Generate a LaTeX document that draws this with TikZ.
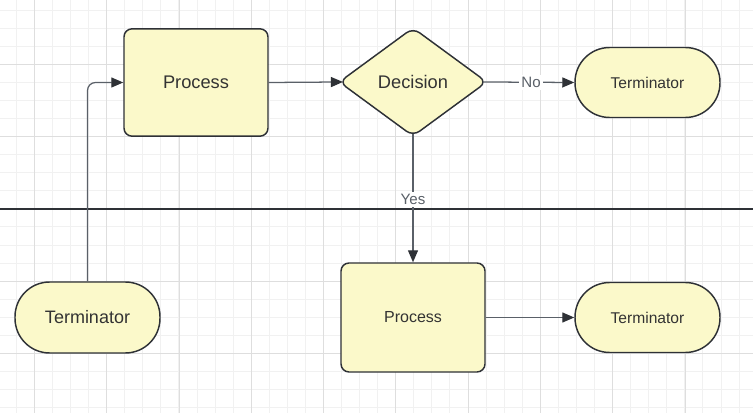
\documentclass[tikz,border=0pt]{standalone}
\usepackage{fontspec}
\setmainfont{Liberation Sans}
\usetikzlibrary{shapes.geometric,arrows.meta}

\definecolor{boxfill}{HTML}{FBF9CA}
\definecolor{boxline}{HTML}{2E3136}
\definecolor{linkline}{HTML}{5A6068}
\definecolor{gridminor}{HTML}{F1F1F1}
\definecolor{gridmajor}{HTML}{DEDEDE}
\definecolor{txt}{HTML}{333333}

\tikzset{
  box/.style={draw=boxline, fill=boxfill, line width=1.1pt, text=txt, rounded corners=6pt, inner sep=0pt},
  procbox/.style={box, minimum width=108pt, minimum height=80.5pt},
  termbox/.style={box, rounded corners=26pt, minimum width=108.75pt, minimum height=52.5pt},
  decbox/.style={box, diamond, minimum width=111pt, minimum height=81.5pt},
  link/.style={draw=linkline, line width=0.95pt, -{Triangle[length=9pt,width=7.5pt,color=boxline]}},
  linklabel/.style={fill=white, text=linkline, inner sep=1.5pt, font=\fontsize{11.3}{13}\selectfont},
  gridline/.style={line width=0.75pt},
}

\begin{document}
\begin{tikzpicture}[x=0.75pt,y=-0.75pt]
\useasboundingbox (0,0) rectangle (753,413);
\fill[white] (0,0) rectangle (753,413);

% grid
\foreach \i in {0,...,40} \draw[gridline, gridminor] ({16.3+18.07*\i},0) -- ++(0,413);
\foreach \j in {0,...,22} \draw[gridline, gridminor] (0,{10.1+18.07*\j}) -- ++(753,0);
\foreach \i in {0,...,9} \draw[gridline, gridmajor] ({34.4+72.3*\i},0) -- ++(0,413);
\foreach \j in {0,...,4} \draw[gridline, gridmajor] (0,{64.3+72.3*\j}) -- ++(753,0);

% lane divider
\coordinate (lane west) at (0,209);
\coordinate (lane east) at (753,209);
\draw[boxline, line width=1.1pt] (lane west) -- (lane east);

\node[procbox, font=\fontsize{13.7}{16}\selectfont] (proc1) at (196,82.5) {Process};
\node[decbox, font=\fontsize{13.7}{16}\selectfont] (dec) at (413,82) {Decision};
\node[termbox, font=\fontsize{11.7}{14}\selectfont] (term1) at (647.5,82.5) {Terminator};
\node[termbox, minimum height=53.25pt, font=\fontsize{13.5}{16}\selectfont] (term2) at (87.5,317.5) {Terminator};
\node[procbox, minimum height=81.75pt, font=\fontsize{12}{14}\selectfont] (proc2) at (413,317.5) {Process};
\node[termbox, font=\fontsize{11.7}{14}\selectfont] (term3) at (647.5,317.5) {Terminator};

\draw[link, rounded corners=6pt] (term2.north) |- (proc1.west);
\draw[link, shorten >=-3.5pt] (proc1.east) -- (dec.west);
\draw[link, shorten <=-3.5pt] (dec.east) -- node[linklabel] {No} (term1.west);
\draw[link, shorten <=-2.5pt] (dec.south) -- node[linklabel] {Yes} (proc2.north);
\draw[link] (proc2.east) -- (term3.west);

\end{tikzpicture}
\end{document}
